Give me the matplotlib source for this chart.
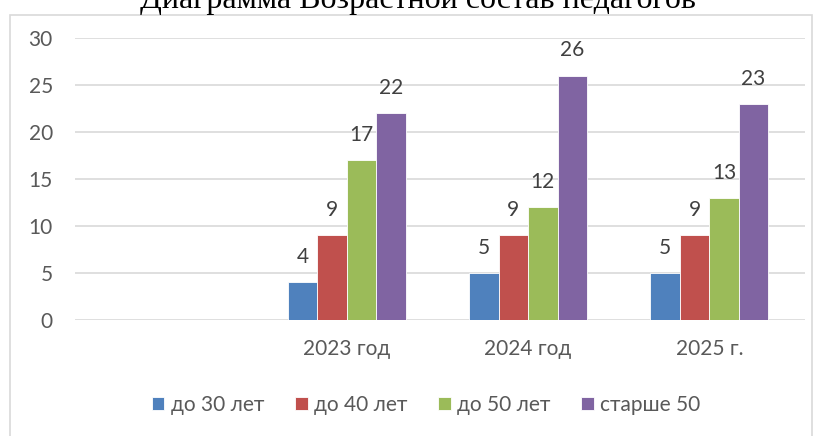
import matplotlib
matplotlib.use("Agg")
import matplotlib.pyplot as plt
from matplotlib.patches import Rectangle
import numpy as np

plt.rcParams['font.family'] = ['Lato', 'DejaVu Sans']

title = "Диаграмма Возрастной состав педагогов"
categories = ["", "2023 год", "2024 год", "2025 г."]
series_names = ["до 30 лет", "до 40 лет", "до 50 лет", "старше 50"]
s_30 = [np.nan, 4, 5, 5]
s_40 = [np.nan, 9, 9, 9]
s_50 = [np.nan, 17, 12, 13]
s_old = [np.nan, 22, 26, 23]
yticks = [0, 5, 10, 15, 20, 25, 30]

colors = ["#4F81BD", "#C0504D", "#9BBB59", "#8064A2"]
W, H = 815, 436
fig = plt.figure(figsize=(W / 100, H / 100), dpi=100)

# chart border
fig.patches.append(Rectangle((10 / W, -0.1), (812 - 10) / W, 1.1 - 15 / H,
                             transform=fig.transFigure, fill=False,
                             edgecolor="#D9D9D9", linewidth=1.2))

ax = fig.add_axes([75 / W, 1 - 320 / H, (805 - 75) / W, (320 - 38) / H])
x = np.arange(len(categories))
bw = 0.163
series = [s_30, s_40, s_50, s_old]
for i, (vals, c, name) in enumerate(zip(series, colors, series_names)):
    pos = x + (i - 1.5) * bw
    ax.bar(pos, vals, bw, color=c, edgecolor="white", linewidth=0.6, label=name)
    for p, v in zip(pos, vals):
        if not np.isnan(v):
            ax.annotate(f"{v:g}", (p, v), xytext=(0, 11), textcoords="offset points",
                        ha="center", va="bottom", fontsize=15, color="#404040")

ax.set_xlim(-0.5, 3.528)
ax.set_ylim(0, 30)
ax.set_yticks(yticks)
ax.set_xticks(x)
ax.set_xticklabels(categories)
ax.tick_params(axis="both", length=0, labelsize=15, labelcolor="#595959")
ax.tick_params(axis="x", pad=14)
ax.tick_params(axis="y", pad=16)
ax.grid(axis="y", color="#D9D9D9", linewidth=1.2)
ax.set_axisbelow(True)
for s in ax.spines.values():
    s.set_visible(False)

fig.text(418 / W, 1 - 8 / H, title, ha="center", va="baseline",
         fontsize=23, family=["Liberation Serif"], color="black")

fig.legend(loc="center", bbox_to_anchor=(426 / W, 1 - 405 / H), ncol=4,
           frameon=False, fontsize=15, handlelength=0.62, handleheight=0.62,
           handletextpad=0.3, columnspacing=1.47, labelcolor="#595959")

fig.savefig("out.png", dpi=100)
